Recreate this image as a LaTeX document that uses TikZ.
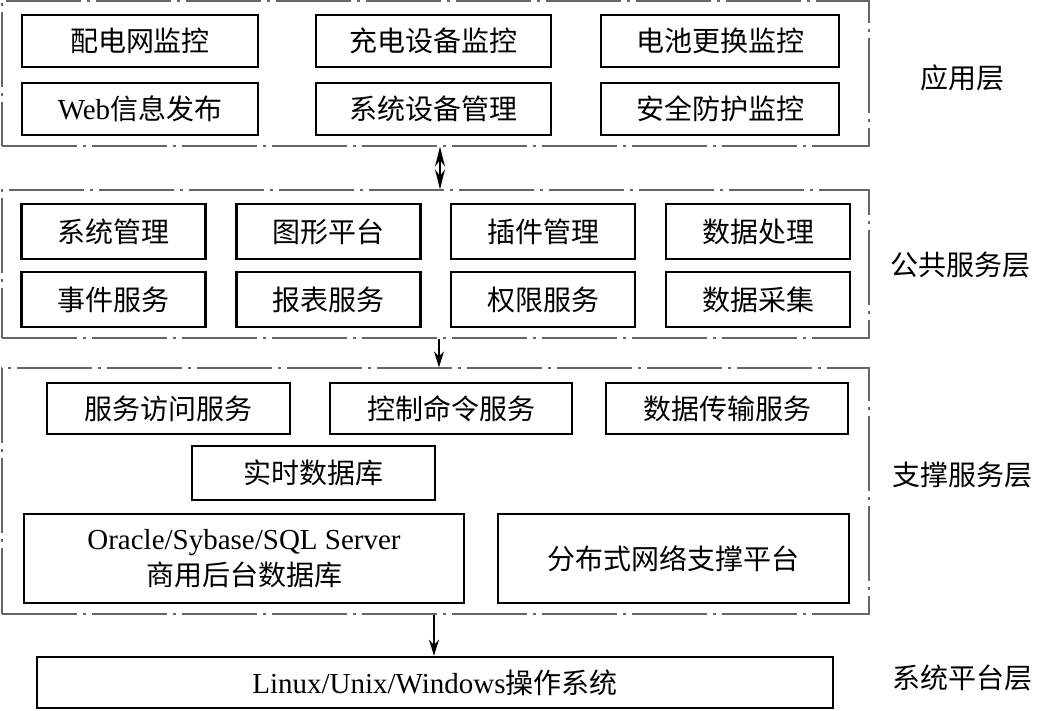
\documentclass[tikz,border=0pt]{standalone}
\usepackage{fontspec}
\setmainfont{Liberation Serif}
\newfontfamily\cjk{Noto Sans CJK SC}
\newcommand\lat[1]{{\fontsize{29}{32}\selectfont\rmfamily #1}}
\usetikzlibrary{arrows.meta}
\begin{document}
\begin{tikzpicture}[x=1pt,y=-1pt,
  box/.style={draw=black,line width=2.6pt,rectangle,inner sep=0pt,align=center,font=\fontsize{28}{33}\selectfont\cjk},
  layer/.style={draw=black!60,line width=1.3pt,rectangle,inner sep=0pt,dash pattern=on 75pt off 6pt on 3pt off 6pt},
  lbl/.style={font=\fontsize{28}{33}\selectfont\cjk,inner sep=0pt},
  arr/.style={line width=1.2pt,-{Stealth[length=16pt,width=10pt]}}]
\useasboundingbox (0,0) rectangle (1037,711);
% layer frames
\node[layer,minimum width=867pt,minimum height=145pt] (L1) at (435.5,73.5) {};
\node[layer,minimum width=867pt,minimum height=148pt] (L2) at (435.5,264) {};
\node[layer,minimum width=867pt,minimum height=246pt] (L3) at (435.5,491) {};
% layer 1
\node[box,minimum width=236pt,minimum height=52pt] (a1) at (140,41) {配电网监控};
\node[box,minimum width=235pt,minimum height=52pt] (a2) at (433.5,41) {充电设备监控};
\node[box,minimum width=238pt,minimum height=52pt] (a3) at (720,41) {电池更换监控};
\node[box,minimum width=236pt,minimum height=52pt] (a4) at (140,109) {\lat{Web}信息发布};
\node[box,minimum width=235pt,minimum height=52pt] (a5) at (433.5,109) {系统设备管理};
\node[box,minimum width=238pt,minimum height=52pt] (a6) at (720,109) {安全防护监控};
% layer 2
\node[box,minimum width=184pt,minimum height=55pt] (b1) at (113.5,231.5) {系统管理};
\node[box,minimum width=184pt,minimum height=55pt] (b2) at (328.5,231.5) {图形平台};
\node[box,minimum width=184pt,minimum height=55pt] (b3) at (543,231.5) {插件管理};
\node[box,minimum width=184pt,minimum height=55pt] (b4) at (758,231.5) {数据处理};
\node[box,minimum width=184pt,minimum height=55pt] (b5) at (113.5,299.5) {事件服务};
\node[box,minimum width=184pt,minimum height=55pt] (b6) at (328.5,299.5) {报表服务};
\node[box,minimum width=184pt,minimum height=55pt] (b7) at (543,299.5) {权限服务};
\node[box,minimum width=184pt,minimum height=55pt] (b8) at (758,299.5) {数据采集};
% layer 3
\node[box,minimum width=243pt,minimum height=51pt] (c1) at (168.5,408.5) {服务访问服务};
\node[box,minimum width=242pt,minimum height=51pt] (c2) at (451,408.5) {控制命令服务};
\node[box,minimum width=242pt,minimum height=51pt] (c3) at (727,408.5) {数据传输服务};
\node[box,minimum width=243pt,minimum height=54pt] (c4) at (313.5,473) {实时数据库};
\node[box,minimum width=440pt,minimum height=89pt] (c5) at (244,558.5) {\lat{Oracle/Sybase/SQL Server}\\[3pt]商用后台数据库};
\node[box,minimum width=351pt,minimum height=89pt] (c6) at (673.5,558.5) {分布式网络支撑平台};
% layer 4
\node[box,minimum width=796pt,minimum height=51pt] (d1) at (435,682.5) {\lat{Linux/Unix/Windows}操作系统};
% labels
\node[lbl] (t1) at (962,78) {应用层};
\node[lbl] (t2) at (960,265) {公共服务层};
\node[lbl] (t3) at (962,475) {支撑服务层};
\node[lbl] (t4) at (962,678) {系统平台层};
% arrows
\coordinate (x1) at (440,0);
\coordinate (x2) at (439,0);
\coordinate (x3) at (434,0);
\draw[line width=1.2pt,{Stealth[length=20pt,width=10pt]}-{Stealth[length=20pt,width=10pt]}] (L1.south -| x1) -- (L2.north -| x1);
\draw[arr] (L2.south -| x2) -- (L3.north -| x2);
\draw[arr] (L3.south -| x3) -- (d1.north -| x3);
\end{tikzpicture}
\end{document}
